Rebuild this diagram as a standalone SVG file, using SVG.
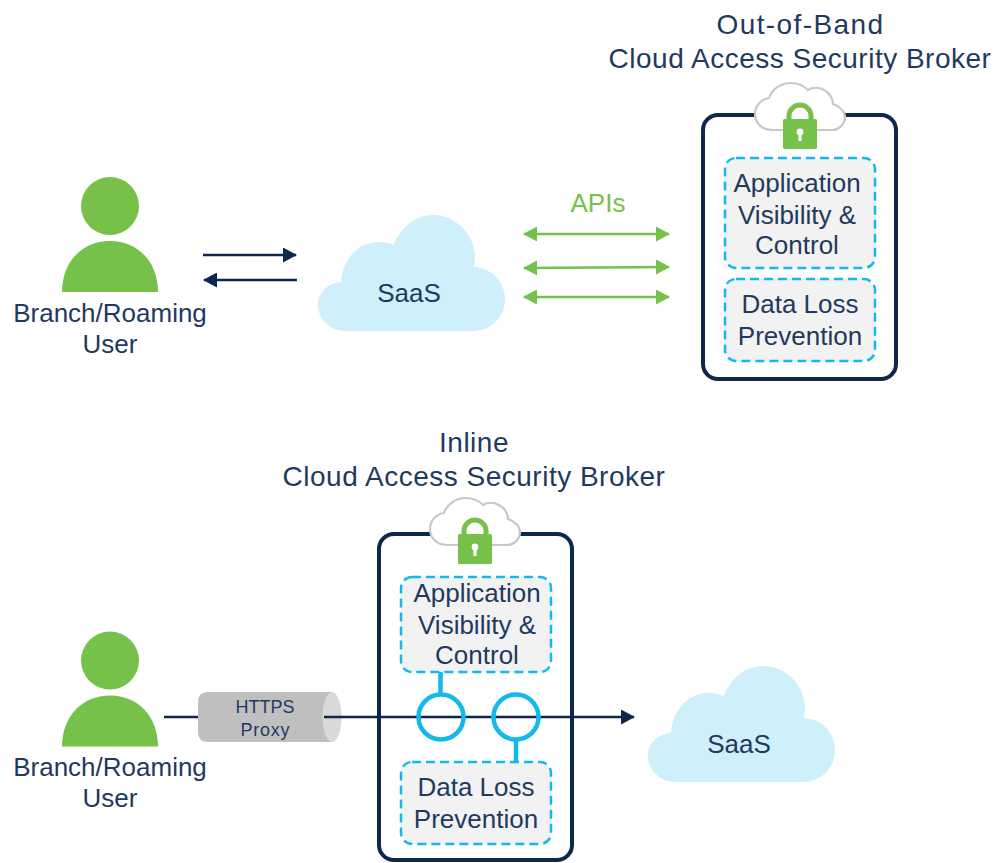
<svg xmlns="http://www.w3.org/2000/svg" width="995" height="863" viewBox="0 0 995 863">
<style>
text{font-family:"Liberation Sans",Arial,sans-serif;fill:#1f3a5f;text-anchor:middle}
.t{font-size:28px;letter-spacing:.5px}
.b{font-size:26px}
.frame{fill:#fff;stroke:#0d274d;stroke-width:4}
.dash{fill:#f2f2f2;stroke:#13b9ea;stroke-width:2.5;stroke-dasharray:9 5}
.person{fill:#75c14a}
.saas{fill:#cff0fb}
.nav{stroke:#0d274d;stroke-width:2.6;fill:none}
.api{stroke:#75c14a;stroke-width:2.4;fill:none}
.cy{stroke:#13b9ea;stroke-width:4.5;fill:none}
.px{font-size:18px}
</style>
<defs>
<marker id="an" viewBox="0 0 14 15" refX="13" refY="7.5" markerUnits="userSpaceOnUse" markerWidth="14" markerHeight="15" orient="auto-start-reverse"><path d="M0 0L14 7.500L0 15Z" fill="#0d274d"/></marker>
<marker id="ag" viewBox="0 0 14 15" refX="13" refY="7.5" markerUnits="userSpaceOnUse" markerWidth="14" markerHeight="15" orient="auto-start-reverse"><path d="M0 0L14 7.500L0 15Z" fill="#75c14a"/></marker>
<g id="user"><circle cx="110" cy="206" r="29"/><path d="M62 292C62 262 82 241 110 241C138 241 158 262 158 292Z"/></g>
<path id="cloud" d="M346 331C330 331 318 319 318 305C318 292 328 283 341 282C342 260 358 242 378 242C384 242 389 243 394 245C400 228 415 215 433 215C456 215 475 235 475 257C475 260 474 264 474 267C492 268 505 282 505 299C505 317 491 331 473 331Z"/>
<g id="lock">
<path d="M772 130C762 130 755 123 755 114C755 105 762 99 769 98C772 89 781 83 791 83C798 83 804 86 808 90C812 87 819 87 824 90C830 93 833 99 833 104C840 106 845 112 845 117C845 124 839 130 832 130Z" fill="#fff" stroke="#c8c8c8" stroke-width="2.2"/>
<path d="M789 121V116A11 11 0 0 1 811 116V121" fill="none" stroke="#75c14a" stroke-width="5"/>
<rect x="783" y="119" width="34" height="30" rx="1.5" fill="#75c14a"/>
<circle cx="800" cy="132" r="3.4" fill="#fff"/><rect x="798.4" y="132" width="3.2" height="9" fill="#fff"/></g>
</defs>

<g id="connectors">
<path class="nav" d="M203 255H296" marker-end="url(#an)"/>
<path class="nav" d="M297 280H204" marker-end="url(#an)"/>
<path class="api" d="M524 234H669" marker-start="url(#ag)" marker-end="url(#ag)"/>
<path class="api" d="M524 268L669 267" marker-start="url(#ag)" marker-end="url(#ag)"/>
<path class="api" d="M524 297H669" marker-start="url(#ag)" marker-end="url(#ag)"/>
</g>

<g id="user-top"><use href="#user" class="person"/><text class="b" x="110" y="322">Branch/Roaming</text><text class="b" x="110" y="353">User</text></g>
<g id="saas-top"><use href="#cloud" class="saas"/><text class="b" x="409" y="302">SaaS</text></g>
<text id="apis" x="598" y="212" class="b" style="fill:#75c14a">APIs</text>

<g id="casb-oob">
<text class="t" x="800" y="34" textLength="167">Out-of-Band</text>
<text class="t" x="800" y="68">Cloud Access Security Broker</text>
<rect class="frame" x="703" y="115" width="193" height="264" rx="15"/>
<use href="#lock"/>
<rect class="dash" x="725" y="158" width="150" height="110" rx="11"/>
<text class="b" x="797" y="192">Application</text><text class="b" x="797" y="224">Visibility &amp;</text><text class="b" x="797" y="254">Control</text>
<rect class="dash" x="725" y="279" width="150" height="82" rx="11"/>
<text class="b" x="800" y="313">Data Loss</text><text class="b" x="800" y="345">Prevention</text>
</g>

<g id="casb-inline">
<text class="t" x="474" y="452">Inline</text>
<text class="t" x="474" y="486">Cloud Access Security Broker</text>
<rect class="frame" x="379" y="534" width="193" height="326" rx="15"/>
<use href="#lock" x="-325" y="415"/>
<rect class="dash" x="401" y="577" width="150" height="95" rx="11"/>
<text class="b" x="477" y="602">Application</text><text class="b" x="477" y="634">Visibility &amp;</text><text class="b" x="477" y="664">Control</text>
<rect class="dash" x="401" y="762" width="150" height="82" rx="11"/>
<text class="b" x="476" y="796">Data Loss</text><text class="b" x="476" y="828">Prevention</text>
</g>

<g id="user-bottom"><use href="#user" y="454.5" class="person"/><text class="b" x="110" y="776">Branch/Roaming</text><text class="b" x="110" y="807">User</text></g>

<g id="proxy">
<path d="M208 692H332V742H208Q198 742 198 732V702Q198 692 208 692Z" fill="#bfbfbf"/>
<ellipse cx="332" cy="717" rx="9.5" ry="25" fill="#d9d9d9"/>
<text class="px" x="265" y="713">HTTPS</text><text class="px" x="265" y="736" textLength="49">Proxy</text>
</g>

<g id="inline-connectors">
<path class="nav" d="M164 717H198M324 717H634" marker-end="url(#an)"/>
<circle class="cy" cx="441" cy="717" r="22.5"/><circle class="cy" cx="516" cy="717" r="22.5"/>
<path class="cy" d="M440.500 672V695M516 740V762"/>
</g>

<g id="saas-bottom"><use href="#cloud" x="330" y="451" class="saas"/><text class="b" x="739" y="753">SaaS</text></g>
</svg>
